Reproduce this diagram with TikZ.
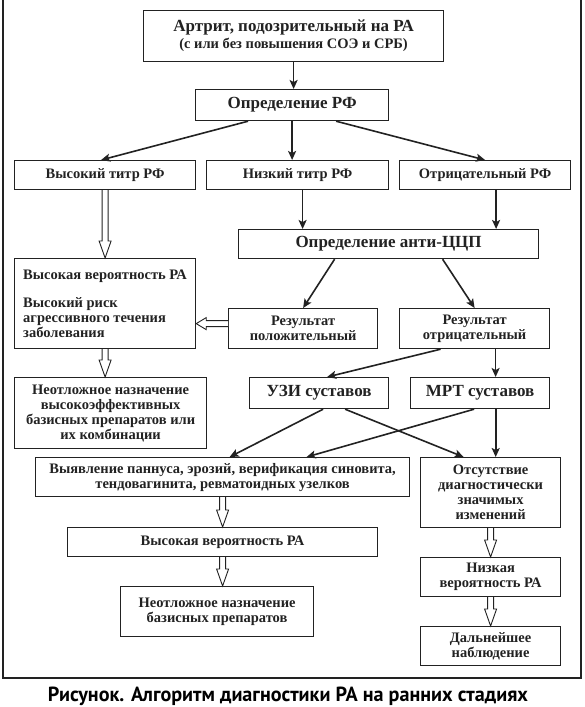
\documentclass[tikz,border=0pt]{standalone}
\usepackage{graphicx}
\usepackage{fontspec}
\setmainfont{Liberation Serif}
\newfontfamily\capfont{PT Sans}
\usetikzlibrary{arrows.meta,calc}
\definecolor{ink}{HTML}{222222}
\tikzset{
  box/.style={draw=ink, line width=1.2pt, text=ink, align=center, inner sep=0pt, anchor=north west, font=\bfseries\fontsize{14.5}{15}\selectfont},
  big/.style={font=\bfseries\fontsize{17}{19}\selectfont},
  arr/.style={draw=ink, line width=1.6pt, -{Stealth[length=9pt,width=8pt,inset=2pt]}},
  hollow/.style={draw=ink, line width=0.9pt, fill=white, line join=miter},
}
\newcommand\hdown[2]{\draw[hollow] let \p1=(#1), \p2=(#2) in (\x1-3pt,\y1) -- (\x1-3pt,\y2+17pt) -- (\x1-6pt,\y2+17pt) -- (\x1,\y2) -- (\x1+6pt,\y2+17pt) -- (\x1+3pt,\y2+17pt) -- (\x1+3pt,\y1);}
\newcommand\hleft[2]{\draw[hollow] let \p1=(#1), \p2=(#2) in (\x1,\y1+3pt) -- (\x2+10pt,\y1+3pt) -- (\x2+10pt,\y1+6pt) -- (\x2,\y1) -- (\x2+10pt,\y1-6pt) -- (\x2+10pt,\y1-3pt) -- (\x1,\y1-3pt);}
\begin{document}
\begin{tikzpicture}[x=1pt,y=-1pt]
\useasboundingbox (0,0) rectangle (585,707);
\fill[white] (0,0) rectangle (585,707);
\draw[ink, line width=1.2pt] (3,0) -- (3,678) -- (581,678) -- (581,0);

\node[box, big, minimum width=300pt, minimum height=51pt] (top) at (143,10)
  {Артрит, подозрительный на РА\\[-2pt]{\fontsize{14.5}{15}\selectfont (с или без повышения СОЭ и СРБ)}};
\node[box, big, minimum width=193pt, minimum height=31pt] (opr) at (195,89) {Определение РФ};
\node[box, minimum width=181pt, minimum height=29pt] (vys) at (14,160) {Высокий титр РФ};
\node[box, minimum width=182pt, minimum height=29pt] (niz) at (206,160) {Низкий титр РФ};
\node[box, minimum width=171pt, minimum height=29pt] (otr) at (399,160) {Отрицательный РФ};
\node[box, big, minimum width=300pt, minimum height=29pt] (anti) at (238,229) {Определение анти-ЦЦП};
\node[box, minimum width=181pt, minimum height=90pt, align=left] (left) at (14,258)
  {Высокая вероятность РА\\[13pt]Высокий риск\\агрессивного течения\\заболевания};
\node[box, minimum width=149pt, minimum height=40pt] (pos) at (228,308) {Результат\\положительный};
\node[box, minimum width=150pt, minimum height=40pt] (neg) at (399,308) {Результат\\отрицательный};
\node[box, minimum width=192pt, minimum height=71pt] (neo1) at (14,377)
  {Неотложное назначение\\высокоэффективных\\базисных препаратов или\\их комбинации};
\node[box, big, minimum width=139pt, minimum height=31pt] (uzi) at (249,377) {УЗИ суставов};
\node[box, big, minimum width=139pt, minimum height=31pt] (mrt) at (410,377) {МРТ суставов};
\node[box, minimum width=374pt, minimum height=39pt] (vyav) at (35,457)
  {Выявление паннуса, эрозий, верификация синовита,\\тендовагинита, ревматоидных узелков};
\node[box, minimum width=140pt, minimum height=70pt] (ots) at (420,457)
  {Отсутствие\\диагностически\\значимых\\изменений};
\node[box, minimum width=310pt, minimum height=29pt] (hv) at (67,527) {Высокая вероятность РА};
\node[box, minimum width=193pt, minimum height=50pt] (neo2) at (120,586) {Неотложное назначение\\базисных препаратов};
\node[box, minimum width=140pt, minimum height=39pt] (low) at (420,557) {Низкая\\вероятность РА};
\node[box, minimum width=140pt, minimum height=39pt] (obs) at (420,626) {Дальнейшее\\наблюдение};

\node[text=black, anchor=base, inner sep=0pt] (cap) at (288,701)
  {\resizebox{480pt}{14.5pt}{\capfont\bfseries\fontsize{21}{24}\selectfont Рисунок. Алгоритм диагностики РА на ранних стадиях}};

\draw[arr] (top.south) -- (top.south |- opr.north);
\draw[arr] ([xshift=-44pt]opr.south) -- ([xshift=-4pt]vys.north);
\draw[arr] (opr.south) -- (opr.south |- niz.north);
\draw[arr] ([xshift=44pt]opr.south) -- (otr.north);
\draw[arr] ([xshift=5pt]niz.south) -- ([xshift=5pt]niz.south |- anti.north);
\draw[arr] ([xshift=11pt]otr.south) -- ([xshift=11pt]otr.south |- anti.north);
\draw[arr] ([xshift=-54pt]anti.south) -- (pos.north);
\draw[arr] ([xshift=54pt]anti.south) -- (neg.north);
\draw[arr] ([xshift=-34pt]neg.south) -- ([xshift=8pt]uzi.north);
\draw[arr] ([xshift=21pt]neg.south) -- ([xshift=21pt]neg.south |- mrt.north);
\draw[arr] ([xshift=4pt]uzi.south) -- ([xshift=7pt]vyav.north);
\draw[arr] ([xshift=26pt]uzi.south) -- ([xshift=-27pt]ots.north);
\draw[arr] ([xshift=-6pt]mrt.south) -- ([xshift=84pt]vyav.north);
\draw[arr] ([xshift=15.6pt]mrt.south) -- ([xshift=15.6pt]mrt.south |- ots.north);

\hdown{vys.south}{left.north}
\hleft{[yshift=5pt]pos.west}{left.east}
\hdown{left.south}{neo1.north}
\hdown{vyav.south}{hv.north}
\hdown{hv.south}{neo2.north}
\hdown{ots.south}{low.north}
\hdown{low.south}{obs.north}
\end{tikzpicture}
\end{document}
